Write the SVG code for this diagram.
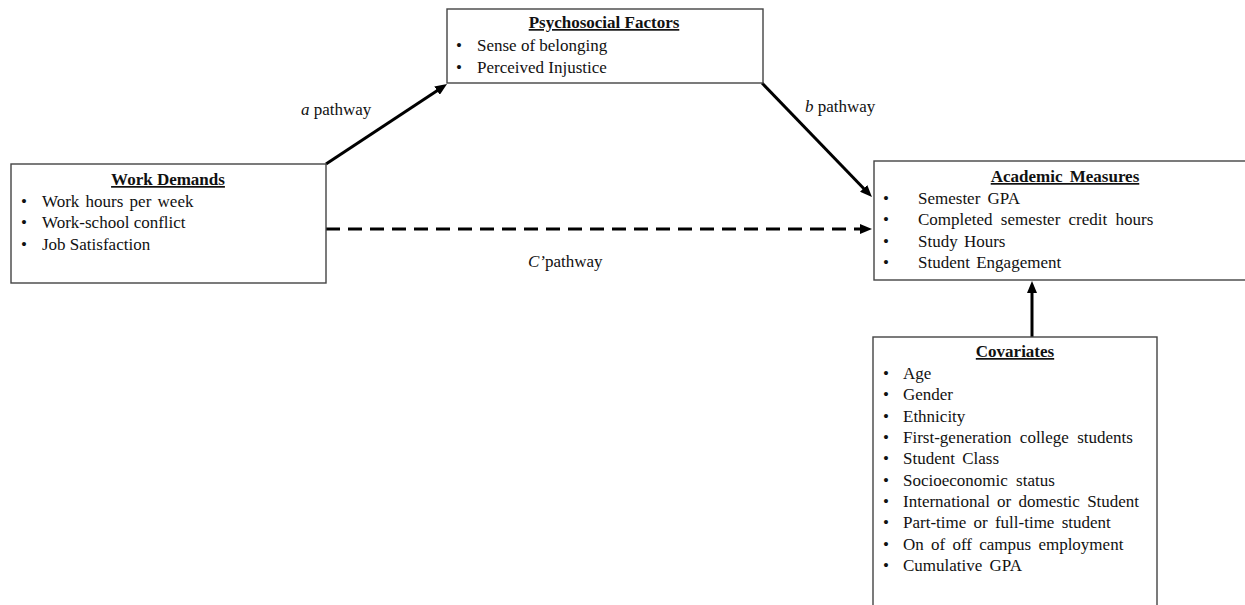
<svg xmlns="http://www.w3.org/2000/svg" width="1245" height="605" viewBox="0 0 1245 605">
<style>
.box{fill:#fff;stroke:#444;stroke-width:1.4}
.t{font-family:"Liberation Serif","Times New Roman",serif;font-size:17px;fill:#111}
.h{font-weight:bold;text-anchor:middle;text-decoration:underline}
.conn{stroke:#000;stroke-width:3;fill:none}
.dash{stroke-dasharray:14 8}
</style>
<defs>
<marker id="arr" markerUnits="userSpaceOnUse" markerWidth="12" markerHeight="10" viewBox="0 0 12 10" refX="5" refY="5" orient="auto">
<path d="M0,0 L12,5 L0,10 z" fill="#000"/>
</marker>
</defs>
<rect width="1245" height="605" fill="#fff"/>
<g id="connectors">
<line class="conn" x1="326" y1="164" x2="441.2" y2="87.9" marker-end="url(#arr)"/>
<line class="conn" x1="762" y1="83" x2="867.1" y2="192" marker-end="url(#arr)"/>
<line class="conn dash" x1="326" y1="229" x2="865" y2="229" marker-end="url(#arr)"/>
<line class="conn" x1="1032" y1="337" x2="1032" y2="288" marker-end="url(#arr)"/>
<text class="t" x="301" y="115"><tspan font-style="italic">a</tspan> pathway</text>
<text class="t" x="805" y="112"><tspan font-style="italic">b</tspan> pathway</text>
<text class="t" x="528" y="267"><tspan font-style="italic">C’</tspan>pathway</text>
</g>
<g id="psychosocial">
<rect class="box" x="447" y="9" width="316" height="74"/>
<text class="t h" x="604" y="28">Psychosocial Factors</text>
<text class="t" x="456" y="51">•</text><text class="t" x="477" y="51">Sense of belonging</text>
<text class="t" x="456" y="73">•</text><text class="t" x="477" y="73">Perceived Injustice</text>
</g>
<g id="work">
<rect class="box" x="11" y="164" width="315" height="119"/>
<text class="t h" x="168" y="185">Work Demands</text>
<text class="t" x="21" y="207">•</text><text class="t" x="42" y="207" word-spacing="2">Work hours per week</text>
<text class="t" x="21" y="228">•</text><text class="t" x="42" y="228">Work-school conflict</text>
<text class="t" x="21" y="250">•</text><text class="t" x="42" y="250">Job Satisfaction</text>
</g>
<g id="academic">
<rect class="box" x="874" y="161" width="380" height="119"/>
<text class="t h" x="1065" y="182" word-spacing="3">Academic Measures</text>
<text class="t" x="883" y="204">•</text><text class="t" x="918" y="204" word-spacing="3">Semester GPA</text>
<text class="t" x="883" y="225">•</text><text class="t" x="918" y="225" word-spacing="4">Completed semester credit hours</text>
<text class="t" x="883" y="247">•</text><text class="t" x="918" y="247" word-spacing="2">Study Hours</text>
<text class="t" x="883" y="268">•</text><text class="t" x="918" y="268" word-spacing="2">Student Engagement</text>
</g>
<g id="covariates">
<rect class="box" x="873" y="337" width="284" height="280"/>
<text class="t h" x="1015" y="357">Covariates</text>
<text class="t" x="883" y="379">•</text><text class="t" x="903" y="379">Age</text>
<text class="t" x="883" y="400">•</text><text class="t" x="903" y="400">Gender</text>
<text class="t" x="883" y="422">•</text><text class="t" x="903" y="422">Ethnicity</text>
<text class="t" x="883" y="443">•</text><text class="t" x="903" y="443" word-spacing="4">First-generation college students</text>
<text class="t" x="883" y="464">•</text><text class="t" x="903" y="464" word-spacing="3">Student Class</text>
<text class="t" x="883" y="486">•</text><text class="t" x="903" y="486" word-spacing="4">Socioeconomic status</text>
<text class="t" x="883" y="507">•</text><text class="t" x="903" y="507" word-spacing="3">International or domestic Student</text>
<text class="t" x="883" y="528">•</text><text class="t" x="903" y="528" word-spacing="3">Part-time or full-time student</text>
<text class="t" x="883" y="550">•</text><text class="t" x="903" y="550" word-spacing="3">On of off campus employment</text>
<text class="t" x="883" y="571">•</text><text class="t" x="903" y="571" word-spacing="3">Cumulative GPA</text>
</g>
</svg>
